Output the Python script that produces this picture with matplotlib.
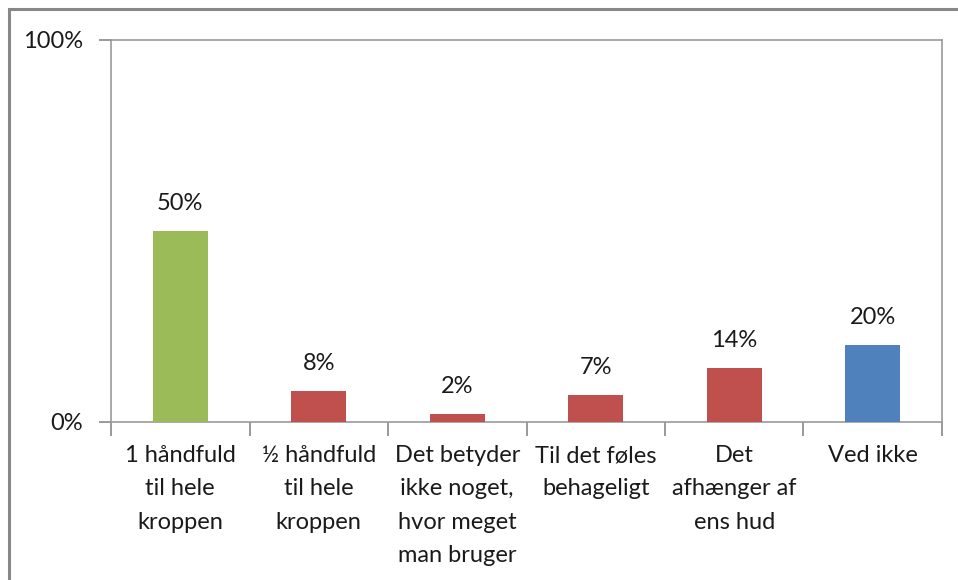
import numpy as np
import matplotlib
matplotlib.use("Agg")
import matplotlib.pyplot as plt
from matplotlib.patches import Rectangle

categories = [
    "1 håndfuld\ntil hele\nkroppen",
    "½ håndfuld\ntil hele\nkroppen",
    "Det betyder\nikke noget,\nhvor meget\nman bruger",
    "Til det føles\nbehageligt",
    "Det\nafhænger af\nens hud",
    "Ved ikke",
]
values = [50, 8, 2, 7, 14, 20]
colors = ["#9BBB59", "#C0504D", "#C0504D", "#C0504D", "#C0504D", "#4F81BD"]

plt.rcParams["font.family"] = ["Lato", "DejaVu Sans"]

fig = plt.figure(figsize=(9.58, 5.8), dpi=100)
W, H = 958, 580
ax = fig.add_axes([111 / W, 1 - 421.5 / H, (942 - 111) / W, (421.5 - 40) / H])

x = np.arange(len(categories))
ax.bar(x, values, width=0.4, color=colors, zorder=3)
for xi, v in zip(x, values):
    ax.text(xi, v + 4.5, f"{v}%", ha="center", va="bottom", fontsize=17, color="#1a1a1a")

ax.set_xlim(-0.5, len(categories) - 0.5)
ax.set_ylim(0, 100)
ax.set_yticks([0, 100])
ax.set_yticklabels(["0%", "100%"])
ax.set_xticks(np.arange(-0.5, len(categories), 1.0))
ax.set_xticklabels([])
ax.set_xticks(x, minor=True)
ax.set_xticklabels(categories, minor=True, fontsize=17, color="#1a1a1a", linespacing=1.72)
ax.tick_params(axis="x", which="minor", length=0, pad=17)
ax.tick_params(axis="x", which="major", length=10, color="#888888", width=1.2)
ax.tick_params(axis="y", length=9, color="#888888", width=1.2, labelsize=17,
               labelcolor="#1a1a1a", pad=11)

for s in ax.spines.values():
    s.set_color("#999999")
    s.set_linewidth(1.2)

# outer chart frame (right/bottom cut off)
fig.patches.append(Rectangle((9 / W, -0.05), 1.1, 1 - 9 / H + 0.05, transform=fig.transFigure,
                             fill=False, edgecolor="#888888", linewidth=2.2))

fig.savefig("out.png", dpi=100)
